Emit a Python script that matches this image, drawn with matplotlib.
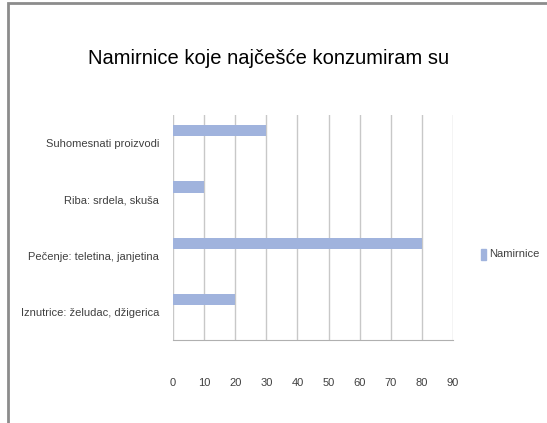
import matplotlib
matplotlib.use("Agg")
import matplotlib.pyplot as plt
from matplotlib.patches import Rectangle

categories = ["Suhomesnati proizvodi", "Riba: srdela, skuša", "Pečenje: teletina, janjetina", "Iznutrice: želudac, džigerica"]
values = [30, 10, 80, 20]
xticks = [0, 10, 20, 30, 40, 50, 60, 70, 80, 90]
series_name = "Namirnice"
title = "Namirnice koje najčešće konzumiram su"

plt.rcParams["font.family"] = ["Liberation Sans", "DejaVu Sans"]

fig = plt.figure(figsize=(5.47, 4.23), dpi=100)
W, H = 547, 423
ax = fig.add_axes([173 / W, (H - 340) / H, 280 / W, 225 / H])

barcolor = "#a0b3dd"
pos = list(range(len(categories)))
ax.barh([p - 0.22 for p in pos], values, height=0.2, color=barcolor, label=series_name, zorder=3)
ax.set_ylim(len(categories) - 0.5, -0.5)
ax.set_xlim(0, 90)
ax.set_xticks(xticks)
ax.set_xticklabels([str(t) for t in xticks], fontsize=8, color="#404040")
ax.set_yticks(pos)
ax.set_yticklabels(categories, fontsize=8, color="#404040")
ax.tick_params(axis="y", length=0, pad=10)
ax.tick_params(axis="x", length=0, pad=27)
ax.grid(axis="x", color="#c8c8c8", linewidth=1, zorder=0)
for s in ["top", "right", "left"]:
    ax.spines[s].set_visible(False)
ax.spines["bottom"].set_color("#b0b0b0")

fig.text(269 / W, 1 - 58 / H, title, ha="center", va="center", fontsize=14.5, color="#000000")

# legend
fig.patches.append(Rectangle((481 / W, 1 - 260 / H), 5 / W, 11 / H, transform=fig.transFigure, color=barcolor))
fig.text(489 / W, 1 - 254 / H, series_name, ha="left", va="center", fontsize=8, color="#404040")

# outer frame
fig.patches.append(Rectangle((8 / W, -0.05), 1.0, 1 - 3 / H + 0.05, transform=fig.transFigure,
                             fill=False, edgecolor="#8c8c8c", linewidth=2))

fig.savefig("out.png", dpi=100)
